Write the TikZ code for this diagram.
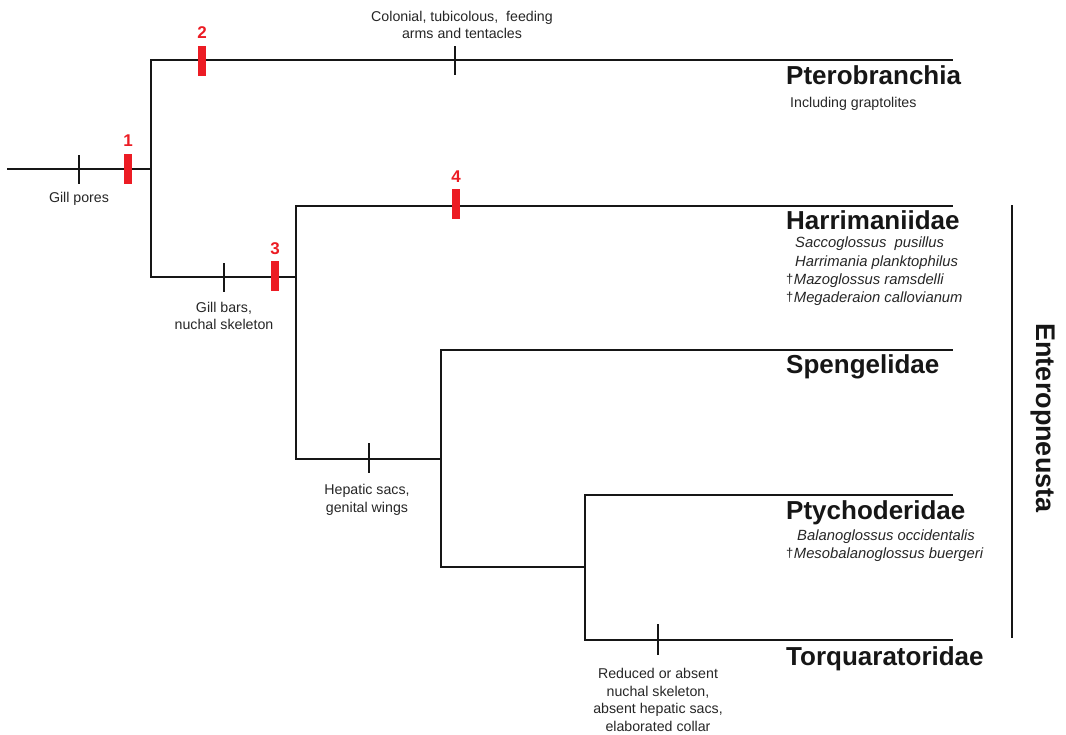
\documentclass[tikz,border=0pt]{standalone}
\usepackage{fontspec}
\setmainfont{Liberation Sans}
\usepackage{graphicx}
\definecolor{ink}{RGB}{22,22,22}
\definecolor{txt}{RGB}{38,38,38}
\definecolor{mred}{RGB}{236,28,36}
\newcommand{\extinct}{{\upshape\fontsize{13}{13}\selectfont\raisebox{0.5pt}{†}}\kern0.5pt}
\begin{document}
\begin{tikzpicture}[x=1pt,y=-1pt,
  branch/.style={draw=ink,line width=2pt,line cap=rect},
  tickmark/.style={draw=ink,line width=1.6pt},
  bar/.style={fill=mred,draw=none,minimum width=8pt,minimum height=30pt,inner sep=0pt},
  num/.style={text=mred,font=\fontsize{17}{17}\selectfont\bfseries,inner sep=0pt,anchor=south},
  taxon/.style={text=ink,font=\fontsize{26}{30}\selectfont\bfseries,inner sep=0pt,anchor=base west},
  species/.style={text=txt,font=\fontsize{14.8}{17}\selectfont\itshape,inner sep=0pt,anchor=base west},
  note/.style={text=txt,font=\fontsize{14.2}{17.5}\selectfont,inner sep=0pt,align=center},
  clade/.style={text=ink,font=\fontsize{27}{30}\selectfont\bfseries,inner sep=0pt,rotate=-90}
]
\useasboundingbox (0,0) rectangle (1066,734);

% branch points and tips
\coordinate (root) at (8,169);
\coordinate (n1) at (151,169);
\coordinate (n1t) at (151,60);
\coordinate (n1b) at (151,277);
\coordinate (tipPt) at (952,60);
\coordinate (n2) at (296,277);
\coordinate (n2t) at (296,206);
\coordinate (n2b) at (296,459);
\coordinate (tipHa) at (952,206);
\coordinate (n3) at (441,459);
\coordinate (n3t) at (441,350);
\coordinate (n3b) at (441,567);
\coordinate (tipSp) at (952,350);
\coordinate (n4) at (585,567);
\coordinate (n4t) at (585,495);
\coordinate (n4b) at (585,640);
\coordinate (tipPy) at (952,495);
\coordinate (tipTo) at (952,640);

% branches
\draw[branch] (root) -- (n1);
\draw[branch] (n1t) -- (n1b);
\draw[branch] (n1t) -- (tipPt);
\draw[branch] (n1b) -- (n2);
\draw[branch] (n2t) -- (n2b);
\draw[branch] (n2t) -- (tipHa);
\draw[branch] (n2b) -- (n3);
\draw[branch] (n3t) -- (n3b);
\draw[branch] (n3t) -- (tipSp);
\draw[branch] (n3b) -- (n4);
\draw[branch] (n4t) -- (n4b);
\draw[branch] (n4t) -- (tipPy);
\draw[branch] (n4b) -- (tipTo);

% character ticks
\draw[tickmark] (79,155) -- (79,184);
\draw[tickmark] (455,46) -- (455,75);
\draw[tickmark] (224,263) -- (224,292);
\draw[tickmark] (369,443) -- (369,473);
\draw[tickmark] (658,624) -- (658,655);

% red bars with numbers
\node[bar] (b1) at (128,169) {};
\node[num] (l1) at (128,147) {1};
\node[bar] (b2) at (201.5,61) {};
\node[num] (l2) at (202,39) {2};
\node[bar] (b3) at (275,276) {};
\node[num] (l3) at (275,255) {3};
\node[bar] (b4) at (456,204) {};
\node[num] (l4) at (456,183) {4};

% character notes
\node[note] (c0) at (79,199) {Gill pores};
\node[note] (c1) at (462,25) {Colonial, tubicolous,\ \ feeding\\arms and tentacles};
\node[note] (c2) at (224,316) {Gill bars,\\nuchal skeleton};
\node[note] (c3) at (367,500) {Hepatic sacs,\\genital wings};
\node[note] (c4) at (658,700) {Reduced or absent\\nuchal skeleton,\\absent hepatic sacs,\\elaborated collar};

% taxa
\node[taxon] (Pt) at (786,84) {Pterobranchia};
\node[note,anchor=base west] (Pts) at (790,107) {Including graptolites};

\node[taxon] (Ha) at (786,229) {Harrimaniidae};
\node[species] (Ha1) at (795,247) {Saccoglossus\ \ pusillus};
\node[species] (Ha2) at (795,266) {Harrimania planktophilus};
\node[species] (Ha3) at (786,284) {\extinct Mazoglossus ramsdelli};
\node[species] (Ha4) at (786,302) {\extinct Megaderaion callovianum};

\node[taxon] (Sp) at (786,373) {Spengelidae};

\node[taxon] (Py) at (786,519) {Ptychoderidae};
\node[species] (Py1) at (797,540) {Balanoglossus occidentalis};
\node[species] (Py2) at (786,558) {\extinct Mesobalanoglossus buergeri};

\node[taxon] (To) at (786,665) {Torquaratoridae};

% Enteropneusta bracket
\coordinate (brT) at (1012,205);
\coordinate (brB) at (1012,638);
\draw[branch,line cap=butt] (brT) -- (brB);
\node[clade] (En) at (1043,418) {Enteropneusta};
\end{tikzpicture}
\end{document}
